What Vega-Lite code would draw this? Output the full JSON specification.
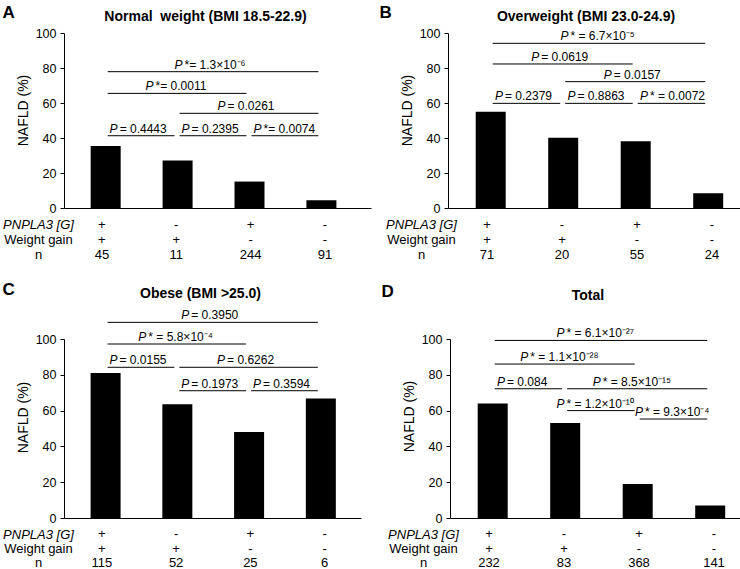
{
  "$schema": "https://vega.github.io/schema/vega-lite/v6.json",
  "padding": {"left": 2, "top": 4, "right": 0, "bottom": 0},
  "config": {
    "font": "Liberation Sans",
    "view": {"stroke": null},
    "axis": {"domainColor": "black", "tickColor": "black", "labelColor": "black", "titleColor": "black", "grid": false},
    "title": {"color": "black"},
    "text": {"color": "black"}
  },
  "datasets": {
    "bars": [
      {"panel": "A", "pos": 1, "pct": 35.5, "pnpla3": "+", "gain": "+", "n": "45"},
      {"panel": "A", "pos": 2, "pct": 27.2, "pnpla3": "-", "gain": "+", "n": "11"},
      {"panel": "A", "pos": 3, "pct": 15.1, "pnpla3": "+", "gain": "-", "n": "244"},
      {"panel": "A", "pos": 4, "pct": 4.4, "pnpla3": "-", "gain": "-", "n": "91"},
      {"panel": "B", "pos": 1, "pct": 55.0, "pnpla3": "+", "gain": "+", "n": "71"},
      {"panel": "B", "pos": 2, "pct": 40.1, "pnpla3": "-", "gain": "+", "n": "20"},
      {"panel": "B", "pos": 3, "pct": 38.2, "pnpla3": "+", "gain": "-", "n": "55"},
      {"panel": "B", "pos": 4, "pct": 8.5, "pnpla3": "-", "gain": "-", "n": "24"},
      {"panel": "C", "pos": 1, "pct": 81.0, "pnpla3": "+", "gain": "+", "n": "115"},
      {"panel": "C", "pos": 2, "pct": 63.6, "pnpla3": "-", "gain": "+", "n": "52"},
      {"panel": "C", "pos": 3, "pct": 48.1, "pnpla3": "+", "gain": "-", "n": "25"},
      {"panel": "C", "pos": 4, "pct": 66.8, "pnpla3": "-", "gain": "-", "n": "6"},
      {"panel": "D", "pos": 1, "pct": 64.0, "pnpla3": "+", "gain": "+", "n": "232"},
      {"panel": "D", "pos": 2, "pct": 53.1, "pnpla3": "-", "gain": "+", "n": "83"},
      {"panel": "D", "pos": 3, "pct": 19.0, "pnpla3": "+", "gain": "-", "n": "368"},
      {"panel": "D", "pos": 4, "pct": 7.0, "pnpla3": "-", "gain": "-", "n": "141"}
    ],
    "brackets": [
      {"panel": "A", "from": 1, "to": 2, "level": 41.3, "rest": "\u00a0= 0.4443"},
      {"panel": "A", "from": 2, "to": 3, "level": 41.3, "rest": "\u00a0= 0.2395"},
      {"panel": "A", "from": 3, "to": 4, "level": 41.3, "rest": "\u00a0*= 0.0074"},
      {"panel": "A", "from": 2, "to": 4, "level": 54.1, "rest": "\u00a0= 0.0261"},
      {"panel": "A", "from": 1, "to": 3, "level": 65.5, "rest": "\u00a0*= 0.0011"},
      {"panel": "A", "from": 1, "to": 4, "level": 77.9, "rest": "\u00a0*= 1.3×10⁻⁶"},
      {"panel": "B", "from": 1, "to": 2, "level": 59.8, "rest": "\u00a0= 0.2379"},
      {"panel": "B", "from": 2, "to": 3, "level": 59.8, "rest": "\u00a0= 0.8863"},
      {"panel": "B", "from": 3, "to": 4, "level": 59.8, "rest": "\u00a0* = 0.0072"},
      {"panel": "B", "from": 2, "to": 4, "level": 72.2, "rest": "\u00a0= 0.0157"},
      {"panel": "B", "from": 1, "to": 3, "level": 82.3, "rest": "\u00a0= 0.0619"},
      {"panel": "B", "from": 1, "to": 4, "level": 94.1, "rest": "\u00a0* = 6.7×10⁻⁵"},
      {"panel": "C", "from": 2, "to": 3, "level": 71.1, "rest": "\u00a0= 0.1973"},
      {"panel": "C", "from": 3, "to": 4, "level": 71.1, "rest": "\u00a0= 0.3594"},
      {"panel": "C", "from": 1, "to": 2, "level": 84.2, "rest": "\u00a0= 0.0155"},
      {"panel": "C", "from": 2, "to": 4, "level": 84.2, "rest": "\u00a0= 0.6262"},
      {"panel": "C", "from": 1, "to": 3, "level": 97.2, "rest": "\u00a0* = 5.8×10⁻⁴"},
      {"panel": "C", "from": 1, "to": 4, "level": 109.3, "rest": "\u00a0= 0.3950"},
      {"panel": "D", "from": 3, "to": 4, "level": 55.3, "rest": "\u00a0* = 9.3×10⁻⁴"},
      {"panel": "D", "from": 2, "to": 3, "level": 60.0, "rest": "\u00a0* = 1.2×10⁻¹⁰"},
      {"panel": "D", "from": 1, "to": 2, "level": 72.2, "rest": "\u00a0= 0.084"},
      {"panel": "D", "from": 2, "to": 4, "level": 72.2, "rest": "\u00a0* = 8.5×10⁻¹⁵"},
      {"panel": "D", "from": 1, "to": 3, "level": 86.0, "rest": "\u00a0* = 1.1×10⁻²⁸"},
      {"panel": "D", "from": 1, "to": 4, "level": 99.2, "rest": "\u00a0* = 6.1×10⁻²⁷"}
    ]
  },
  "resolve": {"scale": {"x": "independent", "y": "independent"}},
  "spacing": 19,
  "vconcat": [
    {
      "hconcat": [
        {
          "title": {"text": "A", "anchor": "start", "frame": "bounds", "fontSize": 17, "fontWeight": "bold", "offset": -12},
          "spacing": 2,
          "resolve": {"scale": {"x": "independent", "y": "independent"}},
          "vconcat": [
            {
              "width": 307, "height": 175,
              "title": {"text": "Normal\u00a0 weight (BMI 18.5-22.9)", "fontSize": 14, "fontWeight": "bold", "anchor": "middle", "frame": "group", "dx": -12, "offset": 3},
              "layer": [
                {"data": {"name": "bars"}, "transform": [{"filter": "datum.panel == 'A'"}],
                 "mark": {"type": "bar", "size": 30, "color": "black"},
                 "encoding": {
                   "x": {"field": "pos", "type": "quantitative", "scale": {"domain": [0.49, 4.62], "nice": false, "zero": false}, "axis": {"title": null, "labels": false, "ticks": false}},
                   "y": {"field": "pct", "type": "quantitative", "scale": {"domain": [0, 100], "nice": false}, "axis": {"values": [0, 20, 40, 60, 80, 100], "labelOverlap": false, "labelFlush": false, "title": "NAFLD (%)", "titleFontSize": 14, "titleFontWeight": "normal", "titlePadding": 5, "titleY": 77, "labelFontSize": 12.5, "labelPadding": 4, "tickSize": 4}}
                 }},
                {"data": {"name": "brackets"}, "transform": [{"filter": "datum.panel == 'A'"}],
                 "mark": {"type": "rule", "color": "black", "strokeWidth": 1, "xOffset": 2, "x2Offset": -3},
                 "encoding": {"x": {"field": "from", "type": "quantitative", "axis": {"title": null, "labels": false, "ticks": false}}, "x2": {"field": "to"}, "y": {"field": "level", "type": "quantitative", "axis": {"values": [0, 20, 40, 60, 80, 100], "labelOverlap": false, "labelFlush": false, "title": "NAFLD (%)", "titleFontSize": 14, "titleFontWeight": "normal", "titlePadding": 5, "titleY": 77, "labelFontSize": 12.5, "labelPadding": 4, "tickSize": 4}}}},
                {"data": {"name": "brackets"}, "transform": [{"filter": "datum.panel == 'A' && indexof(datum.rest, '×') < 0"}, {"fold": ["from", "to"], "as": ["end", "xv"]}],
                 "mark": {"type": "text", "text": "P", "fontStyle": "italic", "fontSize": 12, "align": "right", "baseline": "alphabetic", "dx": -24, "dy": -3},
                 "encoding": {"x": {"aggregate": "mean", "field": "xv", "type": "quantitative", "axis": {"title": null, "labels": false, "ticks": false}}, "y": {"field": "level", "type": "quantitative", "axis": {"values": [0, 20, 40, 60, 80, 100], "labelOverlap": false, "labelFlush": false, "title": "NAFLD (%)", "titleFontSize": 14, "titleFontWeight": "normal", "titlePadding": 5, "titleY": 77, "labelFontSize": 12.5, "labelPadding": 4, "tickSize": 4}}, "detail": {"field": "rest"}}},
                {"data": {"name": "brackets"}, "transform": [{"filter": "datum.panel == 'A' && indexof(datum.rest, '×') < 0"}, {"fold": ["from", "to"], "as": ["end", "xv"]}],
                 "mark": {"type": "text", "fontSize": 12, "align": "left", "baseline": "alphabetic", "dx": -22, "dy": -3},
                 "encoding": {"x": {"aggregate": "mean", "field": "xv", "type": "quantitative", "axis": {"title": null, "labels": false, "ticks": false}}, "y": {"field": "level", "type": "quantitative", "axis": {"values": [0, 20, 40, 60, 80, 100], "labelOverlap": false, "labelFlush": false, "title": "NAFLD (%)", "titleFontSize": 14, "titleFontWeight": "normal", "titlePadding": 5, "titleY": 77, "labelFontSize": 12.5, "labelPadding": 4, "tickSize": 4}}, "text": {"field": "rest"}}},
                {"data": {"name": "brackets"}, "transform": [{"filter": "datum.panel == 'A' && indexof(datum.rest, '×') >= 0 && length(datum.rest) < 14"}, {"fold": ["from", "to"], "as": ["end", "xv"]}],
                 "mark": {"type": "text", "text": "P", "fontStyle": "italic", "fontSize": 12, "align": "right", "baseline": "alphabetic", "dx": -31, "dy": -3},
                 "encoding": {"x": {"aggregate": "mean", "field": "xv", "type": "quantitative", "axis": {"title": null, "labels": false, "ticks": false}}, "y": {"field": "level", "type": "quantitative", "axis": {"values": [0, 20, 40, 60, 80, 100], "labelOverlap": false, "labelFlush": false, "title": "NAFLD (%)", "titleFontSize": 14, "titleFontWeight": "normal", "titlePadding": 5, "titleY": 77, "labelFontSize": 12.5, "labelPadding": 4, "tickSize": 4}}, "detail": {"field": "rest"}}},
                {"data": {"name": "brackets"}, "transform": [{"filter": "datum.panel == 'A' && indexof(datum.rest, '×') >= 0 && length(datum.rest) < 14"}, {"fold": ["from", "to"], "as": ["end", "xv"]}],
                 "mark": {"type": "text", "fontSize": 12, "align": "left", "baseline": "alphabetic", "dx": -29, "dy": -3},
                 "encoding": {"x": {"aggregate": "mean", "field": "xv", "type": "quantitative", "axis": {"title": null, "labels": false, "ticks": false}}, "y": {"field": "level", "type": "quantitative", "axis": {"values": [0, 20, 40, 60, 80, 100], "labelOverlap": false, "labelFlush": false, "title": "NAFLD (%)", "titleFontSize": 14, "titleFontWeight": "normal", "titlePadding": 5, "titleY": 77, "labelFontSize": 12.5, "labelPadding": 4, "tickSize": 4}}, "text": {"field": "rest"}}}
              ]
            },
            {
              "width": 307, "height": 45,
              "data": {"name": "bars"},
              "transform": [{"filter": "datum.panel == 'A'"}, {"fold": ["pnpla3", "gain", "n"], "as": ["row", "value"]}],
              "mark": {"type": "text", "fontSize": 13},
              "encoding": {
                "x": {"field": "pos", "type": "quantitative", "scale": {"domain": [0.49, 4.62], "nice": false, "zero": false}, "axis": null},
                "y": {"field": "row", "type": "nominal", "sort": ["pnpla3", "gain", "n"], "axis": {"title": null, "domain": false, "ticks": false, "labelAlign": "center", "labelPadding": 26, "labelFontSize": 13, "labelExpr": "datum.value == 'pnpla3' ? 'PNPLA3 [G]' : datum.value == 'gain' ? 'Weight gain' : 'n'", "labelFontStyle": {"condition": {"test": "datum.value == 'pnpla3'", "value": "italic"}, "value": "normal"}}},
                "text": {"field": "value"}
              }
            }
          ]
        },
        {
          "title": {"text": "B", "anchor": "start", "frame": "bounds", "fontSize": 17, "fontWeight": "bold", "offset": -12, "dx": -6},
          "spacing": 2,
          "resolve": {"scale": {"x": "independent", "y": "independent"}},
          "vconcat": [
            {
              "width": 300, "height": 175,
              "title": {"text": "Overweight (BMI 23.0-24.9)", "fontSize": 14, "fontWeight": "bold", "anchor": "middle", "frame": "group", "dx": -12, "offset": 3},
              "layer": [
                {"data": {"name": "bars"}, "transform": [{"filter": "datum.panel == 'B'"}],
                 "mark": {"type": "bar", "size": 30, "color": "black"},
                 "encoding": {
                   "x": {"field": "pos", "type": "quantitative", "scale": {"domain": [0.48, 4.48], "nice": false, "zero": false}, "axis": {"title": null, "labels": false, "ticks": false}},
                   "y": {"field": "pct", "type": "quantitative", "scale": {"domain": [0, 100], "nice": false}, "axis": {"values": [0, 20, 40, 60, 80, 100], "labelOverlap": false, "labelFlush": false, "title": "NAFLD (%)", "titleFontSize": 14, "titleFontWeight": "normal", "titlePadding": 5, "titleY": 77, "labelFontSize": 12.5, "labelPadding": 4, "tickSize": 4}}
                 }},
                {"data": {"name": "brackets"}, "transform": [{"filter": "datum.panel == 'B'"}],
                 "mark": {"type": "rule", "color": "black", "strokeWidth": 1, "xOffset": 2, "x2Offset": -3},
                 "encoding": {"x": {"field": "from", "type": "quantitative", "axis": {"title": null, "labels": false, "ticks": false}}, "x2": {"field": "to"}, "y": {"field": "level", "type": "quantitative", "axis": {"values": [0, 20, 40, 60, 80, 100], "labelOverlap": false, "labelFlush": false, "title": "NAFLD (%)", "titleFontSize": 14, "titleFontWeight": "normal", "titlePadding": 5, "titleY": 77, "labelFontSize": 12.5, "labelPadding": 4, "tickSize": 4}}}},
                {"data": {"name": "brackets"}, "transform": [{"filter": "datum.panel == 'B' && indexof(datum.rest, '×') < 0"}, {"fold": ["from", "to"], "as": ["end", "xv"]}],
                 "mark": {"type": "text", "text": "P", "fontStyle": "italic", "fontSize": 12, "align": "right", "baseline": "alphabetic", "dx": -24, "dy": -3},
                 "encoding": {"x": {"aggregate": "mean", "field": "xv", "type": "quantitative", "axis": {"title": null, "labels": false, "ticks": false}}, "y": {"field": "level", "type": "quantitative", "axis": {"values": [0, 20, 40, 60, 80, 100], "labelOverlap": false, "labelFlush": false, "title": "NAFLD (%)", "titleFontSize": 14, "titleFontWeight": "normal", "titlePadding": 5, "titleY": 77, "labelFontSize": 12.5, "labelPadding": 4, "tickSize": 4}}, "detail": {"field": "rest"}}},
                {"data": {"name": "brackets"}, "transform": [{"filter": "datum.panel == 'B' && indexof(datum.rest, '×') < 0"}, {"fold": ["from", "to"], "as": ["end", "xv"]}],
                 "mark": {"type": "text", "fontSize": 12, "align": "left", "baseline": "alphabetic", "dx": -22, "dy": -3},
                 "encoding": {"x": {"aggregate": "mean", "field": "xv", "type": "quantitative", "axis": {"title": null, "labels": false, "ticks": false}}, "y": {"field": "level", "type": "quantitative", "axis": {"values": [0, 20, 40, 60, 80, 100], "labelOverlap": false, "labelFlush": false, "title": "NAFLD (%)", "titleFontSize": 14, "titleFontWeight": "normal", "titlePadding": 5, "titleY": 77, "labelFontSize": 12.5, "labelPadding": 4, "tickSize": 4}}, "text": {"field": "rest"}}},
                {"data": {"name": "brackets"}, "transform": [{"filter": "datum.panel == 'B' && indexof(datum.rest, '×') >= 0 && length(datum.rest) < 14"}, {"fold": ["from", "to"], "as": ["end", "xv"]}],
                 "mark": {"type": "text", "text": "P", "fontStyle": "italic", "fontSize": 12, "align": "right", "baseline": "alphabetic", "dx": -31, "dy": -3},
                 "encoding": {"x": {"aggregate": "mean", "field": "xv", "type": "quantitative", "axis": {"title": null, "labels": false, "ticks": false}}, "y": {"field": "level", "type": "quantitative", "axis": {"values": [0, 20, 40, 60, 80, 100], "labelOverlap": false, "labelFlush": false, "title": "NAFLD (%)", "titleFontSize": 14, "titleFontWeight": "normal", "titlePadding": 5, "titleY": 77, "labelFontSize": 12.5, "labelPadding": 4, "tickSize": 4}}, "detail": {"field": "rest"}}},
                {"data": {"name": "brackets"}, "transform": [{"filter": "datum.panel == 'B' && indexof(datum.rest, '×') >= 0 && length(datum.rest) < 14"}, {"fold": ["from", "to"], "as": ["end", "xv"]}],
                 "mark": {"type": "text", "fontSize": 12, "align": "left", "baseline": "alphabetic", "dx": -29, "dy": -3},
                 "encoding": {"x": {"aggregate": "mean", "field": "xv", "type": "quantitative", "axis": {"title": null, "labels": false, "ticks": false}}, "y": {"field": "level", "type": "quantitative", "axis": {"values": [0, 20, 40, 60, 80, 100], "labelOverlap": false, "labelFlush": false, "title": "NAFLD (%)", "titleFontSize": 14, "titleFontWeight": "normal", "titlePadding": 5, "titleY": 77, "labelFontSize": 12.5, "labelPadding": 4, "tickSize": 4}}, "text": {"field": "rest"}}}
              ]
            },
            {
              "width": 300, "height": 45,
              "data": {"name": "bars"},
              "transform": [{"filter": "datum.panel == 'B'"}, {"fold": ["pnpla3", "gain", "n"], "as": ["row", "value"]}],
              "mark": {"type": "text", "fontSize": 13},
              "encoding": {
                "x": {"field": "pos", "type": "quantitative", "scale": {"domain": [0.48, 4.48], "nice": false, "zero": false}, "axis": null},
                "y": {"field": "row", "type": "nominal", "sort": ["pnpla3", "gain", "n"], "axis": {"title": null, "domain": false, "ticks": false, "labelAlign": "center", "labelPadding": 27, "labelFontSize": 13, "labelExpr": "datum.value == 'pnpla3' ? 'PNPLA3 [G]' : datum.value == 'gain' ? 'Weight gain' : 'n'", "labelFontStyle": {"condition": {"test": "datum.value == 'pnpla3'", "value": "italic"}, "value": "normal"}}},
                "text": {"field": "value"}
              }
            }
          ]
        }
      ],
      "spacing": 8,
      "resolve": {"scale": {"x": "independent", "y": "independent"}}
    },
    {
      "hconcat": [
        {
          "title": {"text": "C", "anchor": "start", "frame": "bounds", "fontSize": 17, "fontWeight": "bold", "offset": -12},
          "spacing": 2,
          "resolve": {"scale": {"x": "independent", "y": "independent"}},
          "vconcat": [
            {
              "width": 297, "height": 179,
              "title": {"text": "Obese (BMI >25.0)", "fontSize": 14, "fontWeight": "bold", "anchor": "middle", "frame": "group", "dx": -12, "offset": 8},
              "layer": [
                {"data": {"name": "bars"}, "transform": [{"filter": "datum.panel == 'C'"}],
                 "mark": {"type": "bar", "size": 30, "color": "black"},
                 "encoding": {
                   "x": {"field": "pos", "type": "quantitative", "scale": {"domain": [0.49, 4.49], "nice": false, "zero": false}, "axis": {"title": null, "labels": false, "ticks": false}},
                   "y": {"field": "pct", "type": "quantitative", "scale": {"domain": [0, 100], "nice": false}, "axis": {"values": [0, 20, 40, 60, 80, 100], "labelOverlap": false, "labelFlush": false, "title": "NAFLD (%)", "titleFontSize": 14, "titleFontWeight": "normal", "titlePadding": 5, "titleY": 78, "labelFontSize": 12.5, "labelPadding": 4, "tickSize": 4}}
                 }},
                {"data": {"name": "brackets"}, "transform": [{"filter": "datum.panel == 'C'"}],
                 "mark": {"type": "rule", "color": "black", "strokeWidth": 1, "xOffset": 2, "x2Offset": -3},
                 "encoding": {"x": {"field": "from", "type": "quantitative", "axis": {"title": null, "labels": false, "ticks": false}}, "x2": {"field": "to"}, "y": {"field": "level", "type": "quantitative", "axis": {"values": [0, 20, 40, 60, 80, 100], "labelOverlap": false, "labelFlush": false, "title": "NAFLD (%)", "titleFontSize": 14, "titleFontWeight": "normal", "titlePadding": 5, "titleY": 78, "labelFontSize": 12.5, "labelPadding": 4, "tickSize": 4}}}},
                {"data": {"name": "brackets"}, "transform": [{"filter": "datum.panel == 'C' && indexof(datum.rest, '×') < 0"}, {"fold": ["from", "to"], "as": ["end", "xv"]}],
                 "mark": {"type": "text", "text": "P", "fontStyle": "italic", "fontSize": 12, "align": "right", "baseline": "alphabetic", "dx": -24, "dy": -3},
                 "encoding": {"x": {"aggregate": "mean", "field": "xv", "type": "quantitative", "axis": {"title": null, "labels": false, "ticks": false}}, "y": {"field": "level", "type": "quantitative", "axis": {"values": [0, 20, 40, 60, 80, 100], "labelOverlap": false, "labelFlush": false, "title": "NAFLD (%)", "titleFontSize": 14, "titleFontWeight": "normal", "titlePadding": 5, "titleY": 78, "labelFontSize": 12.5, "labelPadding": 4, "tickSize": 4}}, "detail": {"field": "rest"}}},
                {"data": {"name": "brackets"}, "transform": [{"filter": "datum.panel == 'C' && indexof(datum.rest, '×') < 0"}, {"fold": ["from", "to"], "as": ["end", "xv"]}],
                 "mark": {"type": "text", "fontSize": 12, "align": "left", "baseline": "alphabetic", "dx": -22, "dy": -3},
                 "encoding": {"x": {"aggregate": "mean", "field": "xv", "type": "quantitative", "axis": {"title": null, "labels": false, "ticks": false}}, "y": {"field": "level", "type": "quantitative", "axis": {"values": [0, 20, 40, 60, 80, 100], "labelOverlap": false, "labelFlush": false, "title": "NAFLD (%)", "titleFontSize": 14, "titleFontWeight": "normal", "titlePadding": 5, "titleY": 78, "labelFontSize": 12.5, "labelPadding": 4, "tickSize": 4}}, "text": {"field": "rest"}}},
                {"data": {"name": "brackets"}, "transform": [{"filter": "datum.panel == 'C' && indexof(datum.rest, '×') >= 0 && length(datum.rest) < 14"}, {"fold": ["from", "to"], "as": ["end", "xv"]}],
                 "mark": {"type": "text", "text": "P", "fontStyle": "italic", "fontSize": 12, "align": "right", "baseline": "alphabetic", "dx": -31, "dy": -3},
                 "encoding": {"x": {"aggregate": "mean", "field": "xv", "type": "quantitative", "axis": {"title": null, "labels": false, "ticks": false}}, "y": {"field": "level", "type": "quantitative", "axis": {"values": [0, 20, 40, 60, 80, 100], "labelOverlap": false, "labelFlush": false, "title": "NAFLD (%)", "titleFontSize": 14, "titleFontWeight": "normal", "titlePadding": 5, "titleY": 78, "labelFontSize": 12.5, "labelPadding": 4, "tickSize": 4}}, "detail": {"field": "rest"}}},
                {"data": {"name": "brackets"}, "transform": [{"filter": "datum.panel == 'C' && indexof(datum.rest, '×') >= 0 && length(datum.rest) < 14"}, {"fold": ["from", "to"], "as": ["end", "xv"]}],
                 "mark": {"type": "text", "fontSize": 12, "align": "left", "baseline": "alphabetic", "dx": -29, "dy": -3},
                 "encoding": {"x": {"aggregate": "mean", "field": "xv", "type": "quantitative", "axis": {"title": null, "labels": false, "ticks": false}}, "y": {"field": "level", "type": "quantitative", "axis": {"values": [0, 20, 40, 60, 80, 100], "labelOverlap": false, "labelFlush": false, "title": "NAFLD (%)", "titleFontSize": 14, "titleFontWeight": "normal", "titlePadding": 5, "titleY": 78, "labelFontSize": 12.5, "labelPadding": 4, "tickSize": 4}}, "text": {"field": "rest"}}}
              ]
            },
            {
              "width": 297, "height": 43,
              "data": {"name": "bars"},
              "transform": [{"filter": "datum.panel == 'C'"}, {"fold": ["pnpla3", "gain", "n"], "as": ["row", "value"]}],
              "mark": {"type": "text", "fontSize": 13},
              "encoding": {
                "x": {"field": "pos", "type": "quantitative", "scale": {"domain": [0.49, 4.49], "nice": false, "zero": false}, "axis": null},
                "y": {"field": "row", "type": "nominal", "sort": ["pnpla3", "gain", "n"], "axis": {"title": null, "domain": false, "ticks": false, "labelAlign": "center", "labelPadding": 26, "labelFontSize": 13, "labelExpr": "datum.value == 'pnpla3' ? 'PNPLA3 [G]' : datum.value == 'gain' ? 'Weight gain' : 'n'", "labelFontStyle": {"condition": {"test": "datum.value == 'pnpla3'", "value": "italic"}, "value": "normal"}}},
                "text": {"field": "value"}
              }
            }
          ]
        },
        {
          "title": {"text": "D", "anchor": "start", "frame": "bounds", "fontSize": 17, "fontWeight": "bold", "offset": -12, "dx": -6},
          "spacing": 2,
          "resolve": {"scale": {"x": "independent", "y": "independent"}},
          "vconcat": [
            {
              "width": 300, "height": 179,
              "title": {"text": "Total", "fontSize": 14, "fontWeight": "bold", "anchor": "middle", "frame": "group", "dx": -12, "offset": 24},
              "layer": [
                {"data": {"name": "bars"}, "transform": [{"filter": "datum.panel == 'D'"}],
                 "mark": {"type": "bar", "size": 30, "color": "black"},
                 "encoding": {
                   "x": {"field": "pos", "type": "quantitative", "scale": {"domain": [0.48, 4.48], "nice": false, "zero": false}, "axis": {"title": null, "labels": false, "ticks": false}},
                   "y": {"field": "pct", "type": "quantitative", "scale": {"domain": [0, 100], "nice": false}, "axis": {"values": [0, 20, 40, 60, 80, 100], "labelOverlap": false, "labelFlush": false, "title": "NAFLD (%)", "titleFontSize": 14, "titleFontWeight": "normal", "titlePadding": 5, "titleY": 77, "labelFontSize": 12.5, "labelPadding": 4, "tickSize": 4}}
                 }},
                {"data": {"name": "brackets"}, "transform": [{"filter": "datum.panel == 'D'"}],
                 "mark": {"type": "rule", "color": "black", "strokeWidth": 1, "xOffset": 2, "x2Offset": -3},
                 "encoding": {"x": {"field": "from", "type": "quantitative", "axis": {"title": null, "labels": false, "ticks": false}}, "x2": {"field": "to"}, "y": {"field": "level", "type": "quantitative", "axis": {"values": [0, 20, 40, 60, 80, 100], "labelOverlap": false, "labelFlush": false, "title": "NAFLD (%)", "titleFontSize": 14, "titleFontWeight": "normal", "titlePadding": 5, "titleY": 77, "labelFontSize": 12.5, "labelPadding": 4, "tickSize": 4}}}},
                {"data": {"name": "brackets"}, "transform": [{"filter": "datum.panel == 'D' && indexof(datum.rest, '×') < 0"}, {"fold": ["from", "to"], "as": ["end", "xv"]}],
                 "mark": {"type": "text", "text": "P", "fontStyle": "italic", "fontSize": 12, "align": "right", "baseline": "alphabetic", "dx": -24, "dy": -3},
                 "encoding": {"x": {"aggregate": "mean", "field": "xv", "type": "quantitative", "axis": {"title": null, "labels": false, "ticks": false}}, "y": {"field": "level", "type": "quantitative", "axis": {"values": [0, 20, 40, 60, 80, 100], "labelOverlap": false, "labelFlush": false, "title": "NAFLD (%)", "titleFontSize": 14, "titleFontWeight": "normal", "titlePadding": 5, "titleY": 77, "labelFontSize": 12.5, "labelPadding": 4, "tickSize": 4}}, "detail": {"field": "rest"}}},
                {"data": {"name": "brackets"}, "transform": [{"filter": "datum.panel == 'D' && indexof(datum.rest, '×') < 0"}, {"fold": ["from", "to"], "as": ["end", "xv"]}],
                 "mark": {"type": "text", "fontSize": 12, "align": "left", "baseline": "alphabetic", "dx": -22, "dy": -3},
                 "encoding": {"x": {"aggregate": "mean", "field": "xv", "type": "quantitative", "axis": {"title": null, "labels": false, "ticks": false}}, "y": {"field": "level", "type": "quantitative", "axis": {"values": [0, 20, 40, 60, 80, 100], "labelOverlap": false, "labelFlush": false, "title": "NAFLD (%)", "titleFontSize": 14, "titleFontWeight": "normal", "titlePadding": 5, "titleY": 77, "labelFontSize": 12.5, "labelPadding": 4, "tickSize": 4}}, "text": {"field": "rest"}}},
                {"data": {"name": "brackets"}, "transform": [{"filter": "datum.panel == 'D' && indexof(datum.rest, '×') >= 0 && length(datum.rest) < 14"}, {"fold": ["from", "to"], "as": ["end", "xv"]}],
                 "mark": {"type": "text", "text": "P", "fontStyle": "italic", "fontSize": 12, "align": "right", "baseline": "alphabetic", "dx": -31, "dy": -3},
                 "encoding": {"x": {"aggregate": "mean", "field": "xv", "type": "quantitative", "axis": {"title": null, "labels": false, "ticks": false}}, "y": {"field": "level", "type": "quantitative", "axis": {"values": [0, 20, 40, 60, 80, 100], "labelOverlap": false, "labelFlush": false, "title": "NAFLD (%)", "titleFontSize": 14, "titleFontWeight": "normal", "titlePadding": 5, "titleY": 77, "labelFontSize": 12.5, "labelPadding": 4, "tickSize": 4}}, "detail": {"field": "rest"}}},
                {"data": {"name": "brackets"}, "transform": [{"filter": "datum.panel == 'D' && indexof(datum.rest, '×') >= 0 && length(datum.rest) < 14"}, {"fold": ["from", "to"], "as": ["end", "xv"]}],
                 "mark": {"type": "text", "fontSize": 12, "align": "left", "baseline": "alphabetic", "dx": -29, "dy": -3},
                 "encoding": {"x": {"aggregate": "mean", "field": "xv", "type": "quantitative", "axis": {"title": null, "labels": false, "ticks": false}}, "y": {"field": "level", "type": "quantitative", "axis": {"values": [0, 20, 40, 60, 80, 100], "labelOverlap": false, "labelFlush": false, "title": "NAFLD (%)", "titleFontSize": 14, "titleFontWeight": "normal", "titlePadding": 5, "titleY": 77, "labelFontSize": 12.5, "labelPadding": 4, "tickSize": 4}}, "text": {"field": "rest"}}},
                {"data": {"name": "brackets"}, "transform": [{"filter": "datum.panel == 'D' && length(datum.rest) >= 14"}, {"fold": ["from", "to"], "as": ["end", "xv"]}],
                 "mark": {"type": "text", "text": "P", "fontStyle": "italic", "fontSize": 12, "align": "right", "baseline": "alphabetic", "dx": -37, "dy": -3},
                 "encoding": {"x": {"aggregate": "mean", "field": "xv", "type": "quantitative", "axis": {"title": null, "labels": false, "ticks": false}}, "y": {"field": "level", "type": "quantitative", "axis": {"values": [0, 20, 40, 60, 80, 100], "labelOverlap": false, "labelFlush": false, "title": "NAFLD (%)", "titleFontSize": 14, "titleFontWeight": "normal", "titlePadding": 5, "titleY": 77, "labelFontSize": 12.5, "labelPadding": 4, "tickSize": 4}}, "detail": {"field": "rest"}}},
                {"data": {"name": "brackets"}, "transform": [{"filter": "datum.panel == 'D' && length(datum.rest) >= 14"}, {"fold": ["from", "to"], "as": ["end", "xv"]}],
                 "mark": {"type": "text", "fontSize": 12, "align": "left", "baseline": "alphabetic", "dx": -35, "dy": -3},
                 "encoding": {"x": {"aggregate": "mean", "field": "xv", "type": "quantitative", "axis": {"title": null, "labels": false, "ticks": false}}, "y": {"field": "level", "type": "quantitative", "axis": {"values": [0, 20, 40, 60, 80, 100], "labelOverlap": false, "labelFlush": false, "title": "NAFLD (%)", "titleFontSize": 14, "titleFontWeight": "normal", "titlePadding": 5, "titleY": 77, "labelFontSize": 12.5, "labelPadding": 4, "tickSize": 4}}, "text": {"field": "rest"}}}
              ]
            },
            {
              "width": 300, "height": 43,
              "data": {"name": "bars"},
              "transform": [{"filter": "datum.panel == 'D'"}, {"fold": ["pnpla3", "gain", "n"], "as": ["row", "value"]}],
              "mark": {"type": "text", "fontSize": 13},
              "encoding": {
                "x": {"field": "pos", "type": "quantitative", "scale": {"domain": [0.48, 4.48], "nice": false, "zero": false}, "axis": null},
                "y": {"field": "row", "type": "nominal", "sort": ["pnpla3", "gain", "n"], "axis": {"title": null, "domain": false, "ticks": false, "labelAlign": "center", "labelPadding": 27, "labelFontSize": 13, "labelExpr": "datum.value == 'pnpla3' ? 'PNPLA3 [G]' : datum.value == 'gain' ? 'Weight gain' : 'n'", "labelFontStyle": {"condition": {"test": "datum.value == 'pnpla3'", "value": "italic"}, "value": "normal"}}},
                "text": {"field": "value"}
              }
            }
          ]
        }
      ],
      "spacing": 20,
      "resolve": {"scale": {"x": "independent", "y": "independent"}}
    }
  ]
}
